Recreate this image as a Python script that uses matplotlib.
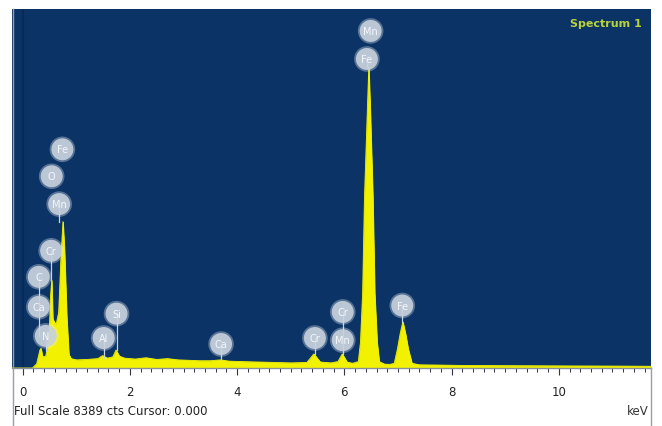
import matplotlib
matplotlib.use("Agg")
import matplotlib.pyplot as plt
from matplotlib.lines import Line2D
import numpy as np

# Spectrum (energy keV, counts)
energy = [-0.2, 0.18, 0.26, 0.32, 0.34, 0.37, 0.43, 0.49, 0.52, 0.54, 0.56, 0.62,
          0.67, 0.71, 0.75, 0.78, 0.82, 0.86, 0.90, 1.0, 1.2, 1.40, 1.49, 1.58, 1.68,
          1.74, 1.80, 1.90, 2.1, 2.3, 2.5, 2.7, 2.9, 3.1, 3.3, 3.5, 3.69, 3.85, 4.1, 4.4,
          4.7, 5.0, 5.3, 5.43, 5.55, 5.75, 5.88, 5.96, 6.05, 6.15, 6.26, 6.30, 6.34,
          6.375, 6.425, 6.455, 6.485, 6.53, 6.565, 6.61, 6.65, 6.75, 6.85, 6.93, 6.99,
          7.04, 7.09, 7.14, 7.19, 7.26, 7.40, 7.7, 8.2, 9.0, 10.0, 11.0, 11.72]
counts = [0, 0, 100, 420, 460, 260, 280, 700, 1700, 2050, 1150, 1000,
          1300, 2500, 3420, 2700, 1200, 320, 220, 190, 200, 220, 290, 230, 260,
          420, 280, 230, 210, 240, 200, 220, 190, 180, 170, 170, 190, 160, 150, 140,
          130, 120, 130, 330, 140, 120, 150, 330, 140, 110, 150, 600, 1750,
          4000, 5900, 7030, 5900, 4000, 1750, 600, 150, 90, 85, 110, 450,
          800, 1080, 800, 450, 110, 75, 70, 60, 55, 50, 45, 40]

# Element labels (name, keV, counts of bubble, counts the stem reaches)
label_names = ["Mn", "Fe", "Fe", "O", "Mn", "Cr", "C", "Ca", "N",
               "Al", "Si", "Ca", "Cr", "Cr", "Mn", "Fe"]
label_x = [6.49, 6.42, 0.74, 0.54, 0.68, 0.53, 0.30, 0.30, 0.43,
           1.51, 1.75, 3.70, 5.45, 5.97, 5.97, 7.08]
label_y = [7876, 7221, 5110, 4480, 3830, 2740, 2130, 1430, 750,
           700, 1270, 560, 700, 1310, 650, 1460]
stem_to = [None, 7030, None, None, 3420, 2050, 1430, 750, 400,
           230, 420, 190, 330, 650, 330, 1080]

xticks = [0, 2, 4, 6, 8, 10]

W, H = 662, 427
fig = plt.figure(figsize=(W / 100, H / 100), dpi=100)
fig.patch.set_facecolor("white")
ax = fig.add_axes([12 / W, (H - 369) / H, (651 - 12) / W, (369 - 10) / H])
navy = "#0b3365"
ax.set_facecolor(navy)
ax.set_xlim(-0.2, 11.72)
ax.set_ylim(0, 8389)

ax.axvline(0, color="#082a57", lw=1.5, zorder=1)
ax.fill_between(energy, counts, 0, color="#f2f200", lw=0.6, zorder=2)
ax.plot(energy, counts, color="#f2f200", lw=0.6, zorder=2)

# bubbles
for name, x, y, s in zip(label_names, label_x, label_y, stem_to):
    if s is not None:
        ax.plot([x, x], [s, y], color="#c9d1dd", lw=0.9, zorder=3)
for name, x, y in zip(label_names, label_x, label_y):
    ax.scatter([x], [y], s=340, color="#e4e9f1", alpha=0.35,
               edgecolors="none", zorder=4)
    ax.scatter([x], [y], s=250, color="#c8d1de", alpha=0.9,
               edgecolors="none", zorder=5)
    ax.text(x, y, name, ha="center", va="center", fontsize=7, color="#f4f6fa",
            zorder=6, family="DejaVu Sans")

ax.text(0.985, 0.96, "Spectrum 1", transform=ax.transAxes, ha="right", va="center",
        fontsize=8, color="#b9d33c", fontweight="bold")

ax.set_yticks([])
ax.set_xticks(xticks)
ax.set_xticklabels([str(t) for t in xticks])
ax.set_xticks(np.arange(0, 11.8, 0.2), minor=True)
ax.tick_params(axis="x", which="major", direction="out", length=5, width=0.8,
               color="#333344", labelsize=8.5, labelcolor="#222222", pad=7)
ax.tick_params(axis="x", which="minor", direction="out", length=3, width=0.7,
               color="#333344")
for side in ["top", "left", "right"]:
    ax.spines[side].set_visible(False)
ax.spines["bottom"].set_color("#8a8f99")
ax.spines["bottom"].set_linewidth(1.0)

# gray frame lines under the plot
fig.add_artist(Line2D([12.5 / W, 12.5 / W], [0, (H - 10) / H], color="#9a9ea6", lw=1,
                      transform=fig.transFigure))
fig.add_artist(Line2D([651 / W, 651 / W], [0, (H - 369) / H], color="#9a9ea6", lw=1,
                      transform=fig.transFigure))

fig.text(14 / W, (H - 412) / H, "Full Scale 8389 cts Cursor: 0.000", ha="left",
         va="center", fontsize=8.5, color="#222222")
fig.text(649 / W, (H - 412) / H, "keV", ha="right", va="center", fontsize=8.5,
         color="#333333")

fig.savefig("out.png", dpi=100, facecolor="white")
